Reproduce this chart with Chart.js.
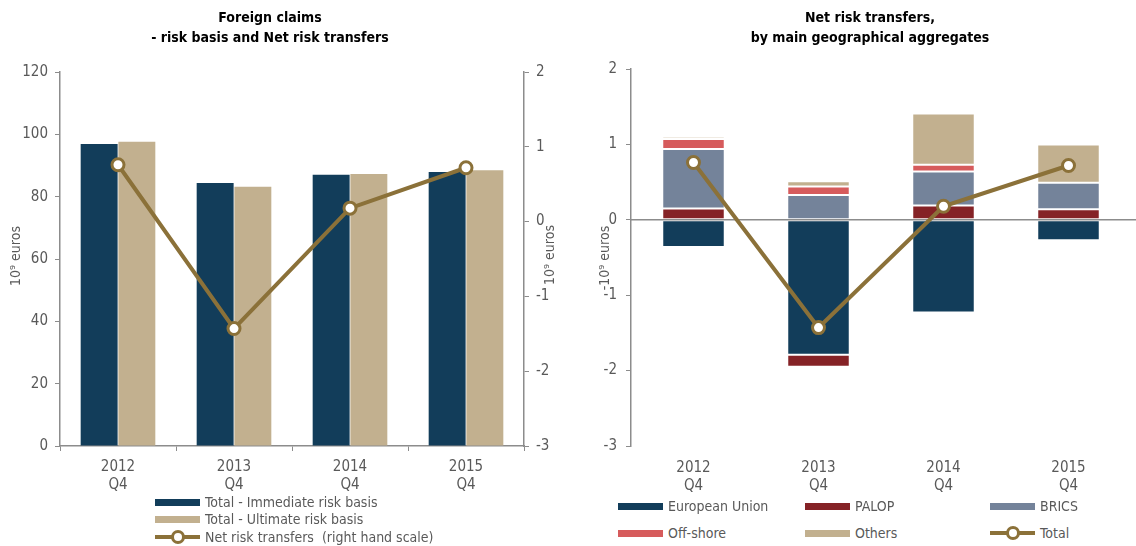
<!DOCTYPE html>
<html>
<head>
<meta charset="utf-8">
<script src="https://cdn.jsdelivr.net/npm/chart.js@4.4.1/dist/chart.umd.min.js"></script>
<style>
  body { margin: 0; width: 1136px; height: 546px; overflow: hidden; position: relative; background: #fff;
         font-family: "Liberation Sans Narrow", "Arial Narrow", "DejaVu Sans Condensed", sans-serif; color: #595959; }
  canvas { position: absolute; top: 0; }
  .title { position: absolute; top: 7px; text-align: center; font-weight: bold; font-size: 14px; line-height: 20px; color: #000; }
  .leg { position: absolute; font-size: 14px; line-height: 16px; display: flex; align-items: center; white-space: nowrap; }
  .sw { width: 45px; height: 7px; margin-right: 5px; }
  .ln { width: 45px; height: 16px; margin-right: 5px; position: relative; }
  .ln:before { content: ""; position: absolute; left: 0; right: 0; top: 6px; height: 4px; background: #8b7139; }
  .ln:after { content: ""; position: absolute; left: 16px; top: 1px; width: 8px; height: 8px; border: 3px solid #8b7139; border-radius: 50%; background: #fff; }
</style>
</head>
<body>
<canvas id="c1" width="570" height="500" style="left:0"></canvas>
<canvas id="c2" width="572" height="500" style="left:568px"></canvas>

<div class="title" style="left:120px;width:300px">Foreign claims<br>- risk basis and Net risk transfers</div>
<div class="title" style="left:720px;width:300px">Net risk transfers,<br>by main geographical aggregates</div>

<div class="leg" style="left:155px;top:494px"><div class="sw" style="background:#123d5a"></div>Total - Immediate risk basis</div>
<div class="leg" style="left:155px;top:511px"><div class="sw" style="background:#c2b08f"></div>Total - Ultimate risk basis</div>
<div class="leg" style="left:155px;top:529px"><div class="ln"></div>Net risk transfers&nbsp; (right hand scale)</div>

<div class="leg" style="left:618px;top:498px"><div class="sw" style="background:#123d5a"></div>European Union</div>
<div class="leg" style="left:805px;top:498px"><div class="sw" style="background:#852226"></div>PALOP</div>
<div class="leg" style="left:990px;top:498px"><div class="sw" style="background:#74839a"></div>BRICS</div>
<div class="leg" style="left:618px;top:525px"><div class="sw" style="background:#d65b5c"></div>Off-shore</div>
<div class="leg" style="left:805px;top:525px"><div class="sw" style="background:#c2b08f"></div>Others</div>
<div class="leg" style="left:990px;top:525px"><div class="ln"></div>Total</div>

<script>
// data
var categories = [['2012', 'Q4'], ['2013', 'Q4'], ['2014', 'Q4'], ['2015', 'Q4']];
var immediateRisk = [96.9, 84.4, 87.0, 87.9];
var ultimateRisk = [97.6, 83.2, 87.3, 88.5];
var netRiskTransfers = [0.76, -1.43, 0.18, 0.72];

var europeanUnion = [-0.36, -1.79, -1.23, -0.27];
var palop = [0.15, -0.16, 0.19, 0.14];
var brics = [0.79, 0.33, 0.45, 0.35];
var offShore = [0.13, 0.11, 0.09, -0.02];
var others = [0.03, 0.07, 0.68, 0.51];

var FONT = '"Liberation Sans Narrow", "Arial Narrow", "DejaVu Sans Condensed", sans-serif';
var GREY = '#595959', AXIS = '#8c8c8c', LINE = '#8b7139';
Chart.defaults.font.family = FONT;
Chart.defaults.font.size = 15;
Chart.defaults.color = GREY;

// rotated axis captions (reading bottom to top)
var sideTitles = {
  id: 'sideTitles',
  afterDraw: function (chart, args, opts) {
    var ctx = chart.ctx;
    (opts.items || []).forEach(function (t) {
      ctx.save();
      ctx.translate(t.x, t.y);
      ctx.rotate(-Math.PI / 2);
      ctx.font = '14px ' + FONT;
      ctx.fillStyle = GREY;
      ctx.textAlign = 'center';
      ctx.textBaseline = 'middle';
      ctx.fillText(t.text, 0, 0);
      ctx.restore();
    });
  }
};

var lineDs = function (label, data, axis) {
  return {
    type: 'line', label: label, data: data, yAxisID: axis, order: 0, stack: 'line',
    borderColor: LINE, borderWidth: 4, pointRadius: 6, pointBorderWidth: 3,
    pointBackgroundColor: '#fff', pointBorderColor: LINE, tension: 0
  };
};

/*---------------- left chart ----------------*/
new Chart('c1', {
  type: 'bar',
  data: {
    labels: categories,
    datasets: [
      lineDs('Net risk transfers  (right hand scale)', netRiskTransfers, 'y2'),
      { label: 'Total - Immediate risk basis', data: immediateRisk, backgroundColor: '#123d5a', order: 1,
        categoryPercentage: 0.65, barPercentage: 0.98 },
      { label: 'Total - Ultimate risk basis', data: ultimateRisk, backgroundColor: '#c2b08f', order: 1,
        categoryPercentage: 0.65, barPercentage: 0.98 }
    ]
  },
  options: {
    responsive: false,
    animation: false,
    layout: { padding: { top: 72 } },
    plugins: {
      legend: { display: false },
      tooltip: { enabled: false },
      sideTitles: { items: [{ text: '10⁹ euros', x: 16, y: 256 }, { text: '10⁹ euros', x: 550, y: 255 }] }
    },
    scales: {
      x: {
        afterFit: function (s) { s.height = 54; },
        grid: { display: true, drawOnChartArea: false, color: AXIS, tickLength: 5 },
        border: { color: AXIS, width: 1.5 },
        ticks: { padding: 7, color: GREY }
      },
      y: {
        position: 'left', min: 0, max: 120,
        afterFit: function (s) { s.width = 60; },
        grid: { display: true, drawOnChartArea: false, color: AXIS, tickLength: 5 },
        border: { color: AXIS, width: 1.5 },
        ticks: { stepSize: 20, padding: 7, color: GREY }
      },
      y2: {
        position: 'right', min: -3, max: 2,
        afterFit: function (s) { s.width = 46; },
        grid: { display: true, drawOnChartArea: false, color: AXIS, tickLength: 5 },
        border: { color: AXIS, width: 1.5 },
        ticks: { stepSize: 1, padding: 7, color: GREY }
      }
    }
  },
  plugins: [sideTitles]
});

/*---------------- right chart ----------------*/
var seg = function (label, data, color) {
  return { label: label, data: data, backgroundColor: color, borderColor: '#fff', borderWidth: 1,
    borderSkipped: false, stack: 'regions', order: 1, categoryPercentage: 0.5, barPercentage: 1 };
};

// zero line sits above the bars but under the Total line
var zeroLine = {
  id: 'zeroLine',
  beforeDatasetDraw: function (chart, args) {
    if (args.meta.type !== 'line') return;
    var ctx = chart.ctx, y = chart.scales.y.getPixelForValue(0);
    ctx.save();
    ctx.strokeStyle = AXIS;
    ctx.lineWidth = 1.5;
    ctx.beginPath();
    ctx.moveTo(chart.chartArea.left, y);
    ctx.lineTo(chart.width, y);
    ctx.stroke();
    ctx.restore();
  }
};

new Chart('c2', {
  type: 'bar',
  data: {
    labels: categories,
    datasets: [
      lineDs('Total', netRiskTransfers, 'y'),
      seg('European Union', europeanUnion, '#123d5a'),
      seg('PALOP', palop, '#852226'),
      seg('BRICS', brics, '#74839a'),
      seg('Off-shore', offShore, '#d65b5c'),
      seg('Others', others, '#c2b08f')
    ]
  },
  options: {
    responsive: false,
    animation: false,
    layout: { padding: { top: 69, right: 0 } },
    plugins: {
      legend: { display: false },
      tooltip: { enabled: false },
      sideTitles: { items: [{ text: '-10⁹ euros', x: 37, y: 258 }] }
    },
    scales: {
      x: {
        stacked: true,
        afterFit: function (s) { s.height = 54; },
        grid: { display: false },
        border: { display: false },
        ticks: { padding: 5, color: GREY }
      },
      y: {
        stacked: true, min: -3, max: 2,
        afterFit: function (s) { s.width = 63; },
        grid: { display: true, drawOnChartArea: false, color: AXIS, tickLength: 5 },
        border: { color: AXIS, width: 1.5 },
        ticks: { stepSize: 1, padding: 9, color: GREY }
      }
    }
  },
  plugins: [sideTitles, zeroLine]
});
</script>
</body>
</html>
